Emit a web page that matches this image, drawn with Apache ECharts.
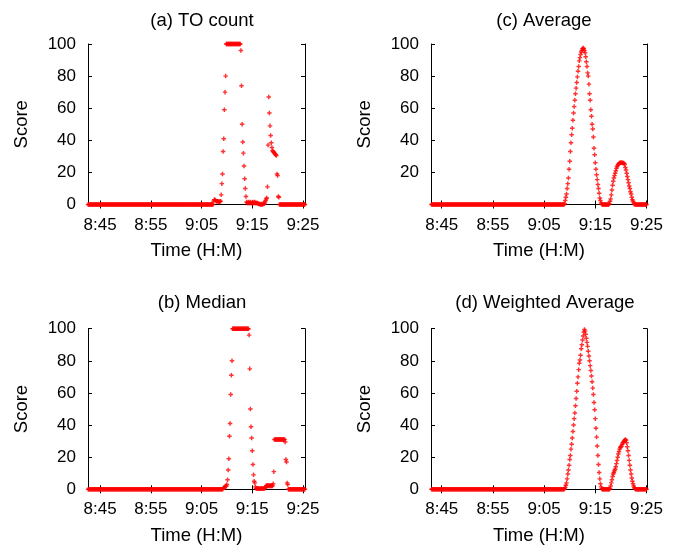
<!DOCTYPE html>
<html><head><meta charset="utf-8">
<script src="https://cdn.jsdelivr.net/npm/echarts@6/dist/echarts.min.js"></script>
<style>html,body{margin:0;padding:0;background:#fff}#c{width:682px;height:552px}</style>
</head><body><div id="c"></div>
<script>
// ---- data (one sample every 7.5 s, rows = one minute) ----
const startTime = '8:42:30';
const sampleSeconds = 7.5;
const xTickLabels = ['8:45', '8:55', '9:05', '9:15', '9:25'];
const panelTitles = ['(a) TO count', '(b) Median', '(c) Average', '(d) Weighted Average'];

const toCount = [
 0,0,0,0,               // 8:42:30
 0,0,0,0,0,0,0,0,       // 8:43
 0,0,0,0,0,0,0,0,       // 8:44
 0,0,0,0,0,0,0,0,       // 8:45
 0,0,0,0,0,0,0,0,       // 8:46
 0,0,0,0,0,0,0,0,       // 8:47
 0,0,0,0,0,0,0,0,       // 8:48
 0,0,0,0,0,0,0,0,       // 8:49
 0,0,0,0,0,0,0,0,       // 8:50
 0,0,0,0,0,0,0,0,       // 8:51
 0,0,0,0,0,0,0,0,       // 8:52
 0,0,0,0,0,0,0,0,       // 8:53
 0,0,0,0,0,0,0,0,       // 8:54
 0,0,0,0,0,0,0,0,       // 8:55
 0,0,0,0,0,0,0,0,       // 8:56
 0,0,0,0,0,0,0,0,       // 8:57
 0,0,0,0,0,0,0,0,       // 8:58
 0,0,0,0,0,0,0,0,       // 8:59
 0,0,0,0,0,0,0,0,       // 9:00
 0,0,0,0,0,0,0,0,       // 9:01
 0,0,0,0,0,0,0,0,       // 9:02
 0,0,0,0,0,0,0,0,       // 9:03
 0,0,0,0,0,0,0,0,       // 9:04
 0,0,0,0,0,0,0,0,       // 9:05
 0,0,0,0,0,0,0,0,       // 9:06
 0,0,0,2,3,3,2.5,2,     // 9:07
 2,2,2,1.5,1.5,2,2,6,   // 9:08
 13,19,33,41,59,70,80,100,           // 9:09
 100,100,100,100,100,100,100,100,    // 9:10
 100,100,100,100,100,100,100,100,    // 9:11
 100,100,100,100,100,100,96,74,      // 9:12
 50,39,32,24,16,10,5,1.5,            // 9:13
 1,1,1.5,1,1,1.5,1,1,                // 9:14
 1,1.5,1,1,1.5,1,1,1,                // 9:15
 1,0.5,0.5,0.3,0.3,0,0,0.3,          // 9:16
 0,0.3,0.5,0.5,1.5,2.5,3.5,4,        // 9:17
 11,37,67,57,49,43,38.5,35.5,        // 9:18
 33.5,33,32.5,32,31.5,31,30.5,19,    // 9:19
 18,5,4.5,0,0,0,0,0,                 // 9:20
 0,0,0,0,0,0,0,0,       // 9:21
 0,0,0,0,0,0,0,0,       // 9:22
 0,0,0,0,0,0,0,0,       // 9:23
 0,0,0,0,0,0,0,0,       // 9:24
 0,0,0,0                // 9:25
];

const median = [
 0,0,0,0,               // 8:42:30
 0,0,0,0,0,0,0,0,       // 8:43
 0,0,0,0,0,0,0,0,       // 8:44
 0,0,0,0,0,0,0,0,       // 8:45
 0,0,0,0,0,0,0,0,       // 8:46
 0,0,0,0,0,0,0,0,       // 8:47
 0,0,0,0,0,0,0,0,       // 8:48
 0,0,0,0,0,0,0,0,       // 8:49
 0,0,0,0,0,0,0,0,       // 8:50
 0,0,0,0,0,0,0,0,       // 8:51
 0,0,0,0,0,0,0,0,       // 8:52
 0,0,0,0,0,0,0,0,       // 8:53
 0,0,0,0,0,0,0,0,       // 8:54
 0,0,0,0,0,0,0,0,       // 8:55
 0,0,0,0,0,0,0,0,       // 8:56
 0,0,0,0,0,0,0,0,       // 8:57
 0,0,0,0,0,0,0,0,       // 8:58
 0,0,0,0,0,0,0,0,       // 8:59
 0,0,0,0,0,0,0,0,       // 9:00
 0,0,0,0,0,0,0,0,       // 9:01
 0,0,0,0,0,0,0,0,       // 9:02
 0,0,0,0,0,0,0,0,       // 9:03
 0,0,0,0,0,0,0,0,       // 9:04
 0,0,0,0,0,0,0,0,       // 9:05
 0,0,0,0,0,0,0,0,       // 9:06
 0,0,0,0,0,0,0,0,       // 9:07
 0,0,0,0,0,0,0,0,       // 9:08
 0,0,0.5,1,1,1.5,2,2,                // 9:09
 3,6,12,19,33,41,59,71,              // 9:10
 80,100,100,100,100,100,100,100,     // 9:11
 100,100,100,100,100,100,100,100,    // 9:12
 100,100,100,100,100,100,100,100,    // 9:13
 100,100,100,96,75,50,39,32,         // 9:14
 24,15.5,9,5,4,1.5,0.5,0.5,          // 9:15
 0.5,0.5,0.5,0.3,0.3,0.5,0.5,0.5,    // 9:16
 0.5,0.5,0.5,0.5,0.8,1.2,2,2.5,      // 9:17
 2,2.5,2,2,2.5,2,2,2.5,              // 9:18
 2,3.5,11,31,31,31,31,31,            // 9:19
 31,31,31,31,31,31,31,31,            // 9:20
 31,31,31,31,29.5,18.5,17,4,         // 9:21
 3,0,0,0,0,0,0,0,                    // 9:22
 0,0,0,0,0,0,0,0,       // 9:23
 0,0,0,0,0,0,0,0,       // 9:24
 0,0,0,0                // 9:25
];

const average = [
 0,0,0,0,               // 8:42:30
 0,0,0,0,0,0,0,0,       // 8:43
 0,0,0,0,0,0,0,0,       // 8:44
 0,0,0,0,0,0,0,0,       // 8:45
 0,0,0,0,0,0,0,0,       // 8:46
 0,0,0,0,0,0,0,0,       // 8:47
 0,0,0,0,0,0,0,0,       // 8:48
 0,0,0,0,0,0,0,0,       // 8:49
 0,0,0,0,0,0,0,0,       // 8:50
 0,0,0,0,0,0,0,0,       // 8:51
 0,0,0,0,0,0,0,0,       // 8:52
 0,0,0,0,0,0,0,0,       // 8:53
 0,0,0,0,0,0,0,0,       // 8:54
 0,0,0,0,0,0,0,0,       // 8:55
 0,0,0,0,0,0,0,0,       // 8:56
 0,0,0,0,0,0,0,0,       // 8:57
 0,0,0,0,0,0,0,0,       // 8:58
 0,0,0,0,0,0,0,0,       // 8:59
 0,0,0,0,0,0,0,0,       // 9:00
 0,0,0,0,0,0,0,0,       // 9:01
 0,0,0,0,0,0,0,0,       // 9:02
 0,0,0,0,0,0,0,0,       // 9:03
 0,0,0,0,0,0,0,0,       // 9:04
 0,0,0,0,0,0,0,0,       // 9:05
 0,0,0,0,0,0,0,0,       // 9:06
 0,0,0,0,0,0,0,0,       // 9:07
 0,0,0,0,0,0,0,0,       // 9:08
 0.5,2.5,4.5,6.5,10,13,16.5,22,      // 9:09
 27,33,38.5,43.5,47.5,52.5,57,61,    // 9:10
 65,69,72.5,76,79.5,83,86,89.5,      // 9:11
 91.5,93.5,95,96,97,97.5,97,96,      // 9:12
 94.5,92,89,86,82,80,75,69,          // 9:13
 65,59,55,50,47,42,35,31,            // 9:14
 26,22,18.5,15.5,12.5,10,7,4,        // 9:15
 2.5,1,0.3,0,0,0,0,0,                // 9:16
 0,0,0,0,0,0,0.5,2,                  // 9:17
 3.5,6,9,12,14.5,16.5,18,19.5,       // 9:18
 21,22.5,23.5,24.5,25,25.5,25.8,26,  // 9:19
 26,26,26,25.8,25.8,25.5,25,23,      // 9:20
 21.5,19.5,17.5,15.5,13.5,11.5,10,8, // 9:21
 6.5,4.5,3,2,1,0.3,0,0,              // 9:22
 0,0,0,0,0,0,0,0,       // 9:23
 0,0,0,0,0,0,0,0,       // 9:24
 0,0,0,0                // 9:25
];

const weighted = [
 0,0,0,0,               // 8:42:30
 0,0,0,0,0,0,0,0,       // 8:43
 0,0,0,0,0,0,0,0,       // 8:44
 0,0,0,0,0,0,0,0,       // 8:45
 0,0,0,0,0,0,0,0,       // 8:46
 0,0,0,0,0,0,0,0,       // 8:47
 0,0,0,0,0,0,0,0,       // 8:48
 0,0,0,0,0,0,0,0,       // 8:49
 0,0,0,0,0,0,0,0,       // 8:50
 0,0,0,0,0,0,0,0,       // 8:51
 0,0,0,0,0,0,0,0,       // 8:52
 0,0,0,0,0,0,0,0,       // 8:53
 0,0,0,0,0,0,0,0,       // 8:54
 0,0,0,0,0,0,0,0,       // 8:55
 0,0,0,0,0,0,0,0,       // 8:56
 0,0,0,0,0,0,0,0,       // 8:57
 0,0,0,0,0,0,0,0,       // 8:58
 0,0,0,0,0,0,0,0,       // 8:59
 0,0,0,0,0,0,0,0,       // 9:00
 0,0,0,0,0,0,0,0,       // 9:01
 0,0,0,0,0,0,0,0,       // 9:02
 0,0,0,0,0,0,0,0,       // 9:03
 0,0,0,0,0,0,0,0,       // 9:04
 0,0,0,0,0,0,0,0,       // 9:05
 0,0,0,0,0,0,0,0,       // 9:06
 0,0,0,0,0,0,0,0,       // 9:07
 0,0,0,0,0,0,0,0,       // 9:08
 0.3,1.2,2.5,4,6.5,9.5,12,15,        // 9:09
 18.5,21,25,28,32,36,40,44,          // 9:10
 47.5,52,56.5,61,66,70,74.5,78.5,    // 9:11
 80.5,83.5,87.5,90,93,95.5,98,99.5,  // 9:12
 98.5,96.5,94,91.5,89,86,83,80,      // 9:13
 77,74,70.5,67,63,59,54,49.5,        // 9:14
 44,38,32.5,27,21,15.5,10.5,6.5,     // 9:15
 3.5,1.5,0.4,0,0,0,0,0,              // 9:16
 0,0,0,0,0,0,0,0.5,                  // 9:17
 2,4,6,8,9.5,10.5,11.5,12.5,         // 9:18
 14,16,18,20,22,23.5,25,26,          // 9:19
 26.5,27,28,29,29.5,30,30.5,31,      // 9:20
 30.5,29,26.5,24,21,18,15,12,        // 9:21
 9.5,7,5,3.5,2,1,0.3,0,              // 9:22
 0,0,0,0,0,0,0,0,       // 9:23
 0,0,0,0,0,0,0,0,       // 9:24
 0,0,0,0                // 9:25
];

// ---- helpers ----
function toMinutes(s) {
  const p = s.split(':').map(Number);
  return p[0] * 60 + p[1] + (p[2] || 0) / 60;
}
const t0 = toMinutes(startTime);
const xTickValues = xTickLabels.map(toMinutes);
function pairs(values) {
  return values.map((v, i) => [t0 + i * sampleSeconds / 60, v]);
}

const FONT = 'Liberation Sans, Arial, Helvetica, sans-serif';
const tickTxt = { fontFamily: FONT, fontSize: 17, color: '#000' };
const bigTxt = { fontFamily: FONT, fontSize: 18.5, color: '#000' };
const plusPath = 'path://M0,3.4H3.4V0H6.6V3.4H10V6.6H6.6V10H3.4V6.6H0Z';

const panels = [
  { title: panelTitles[0], values: toCount,  left: 88,  top: 44,    width: 217, height: 160.5, xMin: 522.6, xMax: 565.4, zeroLabel: true,  titleX: 197, titleTop: 6.5 },
  { title: panelTitles[1], values: median,   left: 88,  top: 328.7, width: 217, height: 160.6, xMin: 522.6, xMax: 565.4, zeroLabel: true,  titleX: 197, titleTop: 288.5 },
  { title: panelTitles[2], values: average,  left: 431, top: 44,    width: 216, height: 160.5, xMin: 522.9, xMax: 565.1, zeroLabel: false, titleX: 539, titleTop: 6.5 },
  { title: panelTitles[3], values: weighted, left: 431, top: 328.7, width: 216, height: 160.6, xMin: 522.9, xMax: 565.1, zeroLabel: true,  titleX: 540, titleTop: 288.5 }
];

const option = { animation: false, title: [], grid: [], xAxis: [], yAxis: [], series: [] };
const line = { show: true, lineStyle: { color: '#000', width: 1 } };

panels.forEach((p, k) => {
  option.title.push({ text: p.title, left: p.titleX, top: p.titleTop, textAlign: 'center',
    textStyle: Object.assign({ fontWeight: 'normal' }, bigTxt) });
  option.grid.push({ left: p.left, top: p.top, width: p.width, height: p.height, containLabel: false });
  const tickX = { show: true, inside: true, length: 4, customValues: xTickValues, lineStyle: { color: '#000' } };
  option.xAxis.push({
    type: 'value', gridIndex: k, position: 'bottom', min: p.xMin, max: p.xMax,
    axisLine: line, axisTick: tickX, splitLine: { show: false },
    axisLabel: Object.assign({ customValues: xTickValues, margin: 12,
      formatter: v => { const j = xTickValues.findIndex(x => Math.abs(x - v) < 1e-6); return j >= 0 ? xTickLabels[j] : ''; } }, tickTxt),
    name: 'Time (H:M)', nameLocation: 'middle', nameGap: 37, nameTextStyle: bigTxt
  });
  option.xAxis.push({
    type: 'value', gridIndex: k, position: 'top', min: p.xMin, max: p.xMax,
    axisLine: line, axisTick: tickX, axisLabel: { show: false }, splitLine: { show: false }
  });
  const tickY = { show: true, inside: true, length: 4, lineStyle: { color: '#000' } };
  option.yAxis.push({
    type: 'value', gridIndex: k, position: 'left', min: 0, max: 100, interval: 20,
    axisLine: line, axisTick: tickY, splitLine: { show: false },
    axisLabel: Object.assign({ margin: 12, showMinLabel: p.zeroLabel }, tickTxt),
    name: 'Score', nameLocation: 'middle', nameGap: 57, nameTextStyle: bigTxt
  });
  option.yAxis.push({
    type: 'value', gridIndex: k, position: 'right', min: 0, max: 100, interval: 20,
    axisLine: line, axisTick: tickY, axisLabel: { show: false }, splitLine: { show: false }
  });
  option.series.push({
    type: 'scatter', xAxisIndex: 2 * k, yAxisIndex: 2 * k, data: pairs(p.values),
    symbol: plusPath, symbolSize: 4.5, itemStyle: { color: '#ff0000' }, clip: true
  });
});

const chart = echarts.init(document.getElementById('c'), null, { renderer: 'canvas' });
chart.setOption(option);
</script>
</body></html>
